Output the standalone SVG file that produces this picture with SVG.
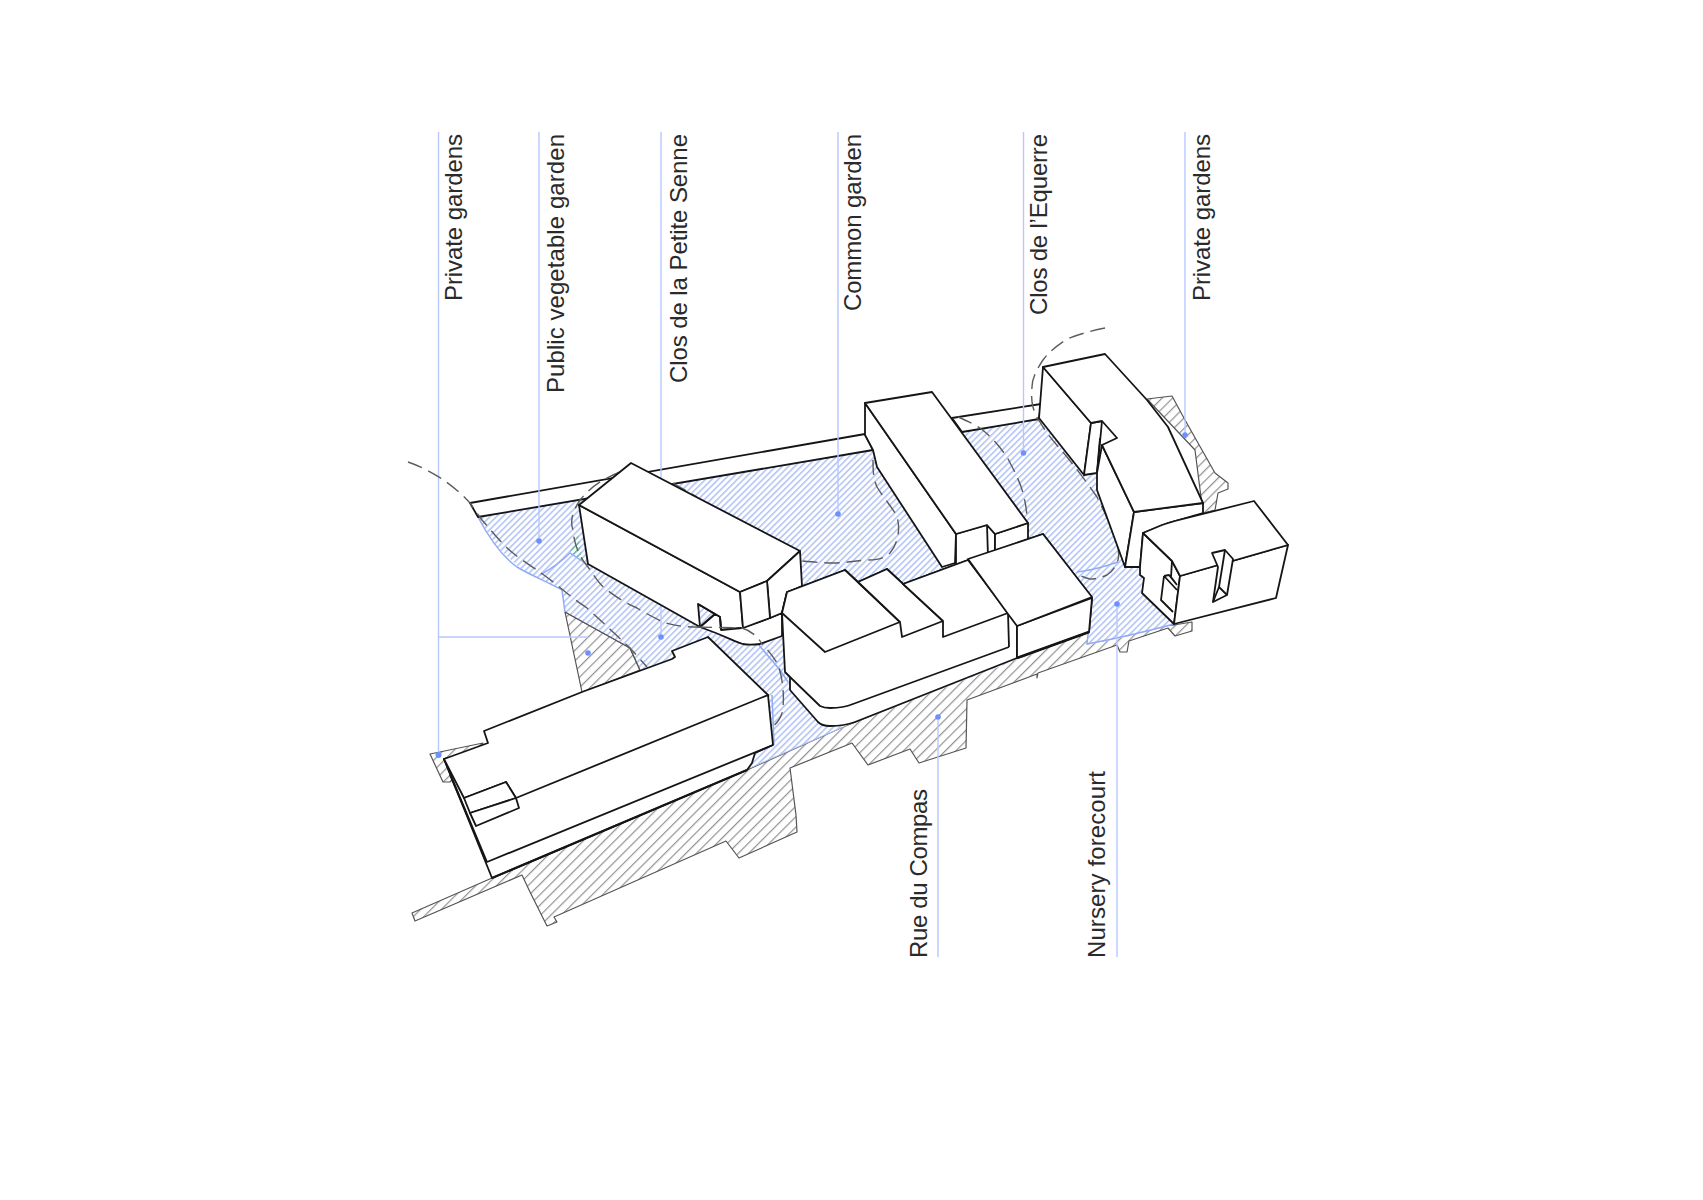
<svg xmlns="http://www.w3.org/2000/svg" width="1703" height="1200" viewBox="0 0 1703 1200">
<style>
.t{font-family:"Liberation Sans",Arial,sans-serif;font-size:24px;fill:#2a2a2a}
.b{fill:#fff;stroke:#151515;stroke-width:1.8;stroke-linejoin:round}
.l{fill:none;stroke:#151515;stroke-width:1.8;stroke-linejoin:round}
.k{fill:none;stroke:#151515;stroke-width:2.8}
.g{fill:url(#hg);stroke:#555;stroke-width:1.2;stroke-linejoin:round}
.h{fill:url(#hb);stroke:none}
.o{fill:none;stroke:#90aaf5;stroke-width:1.5}
.d{fill:none;stroke:#5c5c5c;stroke-width:1.4;stroke-dasharray:15 7}
.c{fill:none;stroke:#b8c8ff;stroke-width:1.4}
.p{fill:#6e90ff}
</style>
<defs>
<pattern id="hb" width="4.5" height="4.5" patternUnits="userSpaceOnUse" patternTransform="rotate(45)"><rect width="4.5" height="4.5" fill="#fff"/><rect width="1.6" height="4.5" fill="#b4c5f6"/></pattern>
<pattern id="hg" width="7.4" height="7.4" patternUnits="userSpaceOnUse" patternTransform="rotate(45)"><rect width="7.4" height="7.4" fill="#fff"/><rect width="1.2" height="7.4" fill="#929292"/></pattern>
<pattern id="ht" width="4.5" height="4.5" patternUnits="userSpaceOnUse" patternTransform="rotate(45)"><rect width="4.5" height="4.5" fill="#fff"/><rect width="1.7" height="4.5" fill="#6fb8b0"/></pattern>
</defs>

<g id="ground">
<polygon id="street" class="g" points="412,913 415,921 522,875 530,892 547,926 557,922 554,917 726,841 739,858 797,832 796,815 790,768 852,743 868,765 910,749 919,763 966,748 967,700 1037,674 1037,678 1038,673 1117,645 1120,652 1127,652 1129,641 1168,628 1175,636 1192,631 1192,622 1174,625 1087,633 1017,658 843,727 747,770 492,878"/>
<polygon id="grey-triangle" class="g" points="565,612 582,692 640,670 630,648"/>
<polygon id="grey-west" class="g" points="430,754 483,743 470,760 450,782 443,782"/>
<polygon id="grey-east" class="g" points="1147,399 1172,396 1185,420 1215,473 1228,483 1228,489 1218,493 1215,510 1203,513 1195,450"/>
<polygon id="blue-area" class="h" points="478,517 873,450 960,432 1039,419 1084,475 1097,473 1097,490 1125,567 1138,567 1140,575 1144,578 1142,593 1174,624 1130,636 1087,645 1089,632 843,727 750,768 690,660 640,670 630,648 565,612 562,590 520,568 497,547"/>
<polygon id="teal" points="578,533 583,562 570,552" fill="url(#ht)"/>
<path class="o" d="M478,517C490,540 503,557 517,567C530,575 548,582 562,590L565,612M540,575Q558,565 570,553L588,565M758,644L780,670L788,682M1077,572Q1095,570 1118,562M772,695L774,745M1092,598L1087,644Q1130,636 1174,624M962,432L1039,419M478,517L873,450"/>
<path class="o" style="stroke-width:1;stroke:#a8bcf5" d="M750,768L843,727"/>
<path class="l" style="stroke:#555;stroke-width:1.3" d="M565,612L630,648L640,670"/>
</g>

<g id="walls">
<polygon class="b" points="470,503 865,434 873,450 478,517"/>
<polygon class="b" points="952,418 1041,404 1039,419 962,432"/>
</g>

<g id="connectors">
<path class="c" d="M438.5,132V755M438.5,637H588M539,132V541M661,132V637M838,132V514M1023.5,132V453M1185,132V435M938,717V957M1117,604V957"/>
<circle class="p" cx="438.5" cy="755" r="3"/><circle class="p" cx="588" cy="653" r="2.8"/><circle class="p" cx="539" cy="541" r="2.8"/><circle class="p" cx="661" cy="637" r="2.8"/><circle class="p" cx="838" cy="514" r="2.8"/><circle class="p" cx="1023.5" cy="453" r="2.8"/><circle class="p" cx="1185" cy="435" r="2.8"/><circle class="p" cx="938" cy="717" r="2.8"/><circle class="p" cx="1117" cy="604" r="2.8"/>
</g>

<g id="dashed">
<path class="d" d="M408,462C437,472 458,490 470,503L482,520C495,535 505,547 513,553C525,563 542,572 563,590C575,600 580,603 587,608C600,620 607,626 613,632L630,648L647,667"/>
<path class="d" d="M620,472C600,480 590,488 580,500C572,512 570,522 573,530C574,545 580,558 588,567C595,577 600,585 607,590C620,600 630,605 637,608C645,613 655,618 663,622C675,626 685,627 697,627L742,628C750,630 768,648 777,663C783,675 785,700 782,713C780,720 775,725 771,728"/>
<path class="d" d="M673,483L697,497"/>
<path class="d" d="M873,460C873,470 873,478 877,487C885,500 893,508 897,517C901,530 897,545 890,553C882,560 875,560 867,560C855,561 845,563 833,563C822,563 812,562 802,561"/>
<path class="d" d="M958,417C965,420 972,423 980,428C992,437 1000,447 1007,457C1015,472 1020,482 1023,493C1026,505 1027,512 1027,522"/>
<path class="d" d="M1105,328C1090,331 1077,335 1067,339C1055,347 1048,353 1043,360C1035,372 1032,380 1032,387C1031,397 1032,403 1033,407C1035,414 1037,418 1040,422C1048,436 1057,445 1067,457C1080,473 1090,487 1097,497C1106,515 1113,530 1117,543C1119,550 1119,555 1118,560C1115,568 1112,572 1107,575C1100,578 1095,579 1090,579C1085,578 1080,576 1077,573"/>
</g>

<g id="building-a">
<polygon class="b" points="588,564 579,505 740,592 743,628 721,630 720,617 715,614 698,604 700,627"/>
<path class="b" d="M700,627L715,614L720,617L721,630L742,628L770,618L782,613V636L760,644C752,645 748,645 743,644C735,642 728,637 700,627Z"/>
<polygon class="b" points="579,505 631,463 800,551 767,581 740,592"/>
<polygon class="b" points="767,581 800,551 802,586 787,593 782,613 770,618"/>
<polygon class="b" points="740,592 767,581 770,618 743,628"/>
<path class="l" d="M698,604L715,614M700,627L715,614M720,617L721,630"/>
</g>

<g id="building-b">
<polygon class="b" points="865,403 956,534 955,563 942,567 877,467 873,450 865,435"/>
<polygon class="b" points="956,534 987,525 995,534 995,552 956,566"/>
<polygon class="b" points="987,525 995,534 995,555 988,557"/>
<polygon class="b" points="995,534 1028,523 1028,545 995,557"/>
<polygon class="b" points="865,403 932,392 1028,523 995,534 987,525 956,534"/>
</g>

<g id="building-f">
<polygon class="b" points="1043,367 1039,418 1084,475 1091,423"/>
<polygon class="b" points="1091,423 1102,421 1097,473 1084,475"/>
<path class="l" d="M1100,438L1097,473"/>
<polygon class="b" points="1102,445 1097,473 1097,490 1125,567 1134,512"/>
<polygon class="b" points="1134,512 1203,503 1203,513 1168,523 1143,533 1140,567 1125,567"/>
<polygon class="b" points="1043,367 1105,354 1147,400 1168,427 1203,503 1134,512 1102,445 1117,438 1102,421 1091,423"/>
</g>

<g id="building-g">
<polygon class="b" points="1143,533 1140,567 1140,575 1144,578 1142,593 1174,624 1180,576 1172,561"/>
<polygon class="b" points="1180,576 1288,545 1276,598 1174,624"/>
<path class="b" d="M1143,533L1162,525Q1168,523 1175,521L1254,501L1288,545L1180,576L1172,561Z"/>
<path class="l" d="M1172,561L1171,577M1164,576L1161,600L1173,612M1164,576L1169,575L1177,585M1164,576L1177,590M1171,577L1177,585"/>
<polygon class="b" points="1212,553 1225,550 1233,559 1227,595 1213,602 1218,567"/>
<path class="l" d="M1225,550L1219,587L1227,595M1219,587L1213,602"/>
</g>

<g id="building-e">
<path class="b" d="M782,613L785,672L790,677V690L818,722C822,726 826,726 830,726C838,726 847,725 855,722L1017,658L1089,632L1092,598L1043,534L968,560L903,584L887,569L858,582L845,570L787,592Z"/>
<path class="l" d="M790,677L820,706C824,708 826,708 830,708C838,708 846,707 853,704L1009,647M1008,613L1009,647M1017,626V658"/>
<polygon class="b" points="1017,626 1092,598 1089,632 1017,658"/>
<polygon class="b" points="782,613 787,592 845,570 900,622 825,652"/>
<polygon class="b" points="858,582 887,569 943,621 902,637 900,622"/>
<polygon class="b" points="903,584 968,560 1008,613 943,637 943,621"/>
<polygon class="b" points="968,559 1043,534 1092,597 1017,626 1008,614"/>
<path class="k" d="M1017,658L1089,632"/>
</g>

<g id="building-d">
<polygon class="b" points="444,759 492,878 747,770 752,763 755,753 773,745 768,695"/>
<path class="l" d="M450,775L487,862L773,745M444,759L487,862"/>
<polygon class="b" points="444,759 488,743 484,731 582,692 672,659 675,657 672,651 708,637 768,695 516,798 506,782 464,798"/>
<polygon class="b" points="464,798 506,782 516,798 470,813"/>
<polygon class="b" points="470,813 516,798 519,808 476,826"/>
<path class="k" style="stroke-width:2.2" d="M492,878L747,770"/>
</g>

<path class="d" d="M697,627L742,628Q755,632 762,644"/>

<g id="labels">
<text class="t" textLength="167" transform="translate(462,301) rotate(-90)">Private gardens</text>
<text class="t" textLength="259" transform="translate(564,393) rotate(-90)">Public vegetable garden</text>
<text class="t" textLength="249" transform="translate(686.5,383) rotate(-90)">Clos de la Petite Senne</text>
<text class="t" textLength="177" transform="translate(861,311) rotate(-90)">Common garden</text>
<text class="t" textLength="181" transform="translate(1047,315) rotate(-90)">Clos de l’Equerre</text>
<text class="t" textLength="167" transform="translate(1210,301) rotate(-90)">Private gardens</text>
<text class="t" textLength="169" transform="translate(926.5,958) rotate(-90)">Rue du Compas</text>
<text class="t" textLength="187" transform="translate(1105,958) rotate(-90)">Nursery forecourt</text>
</g>
</svg>
